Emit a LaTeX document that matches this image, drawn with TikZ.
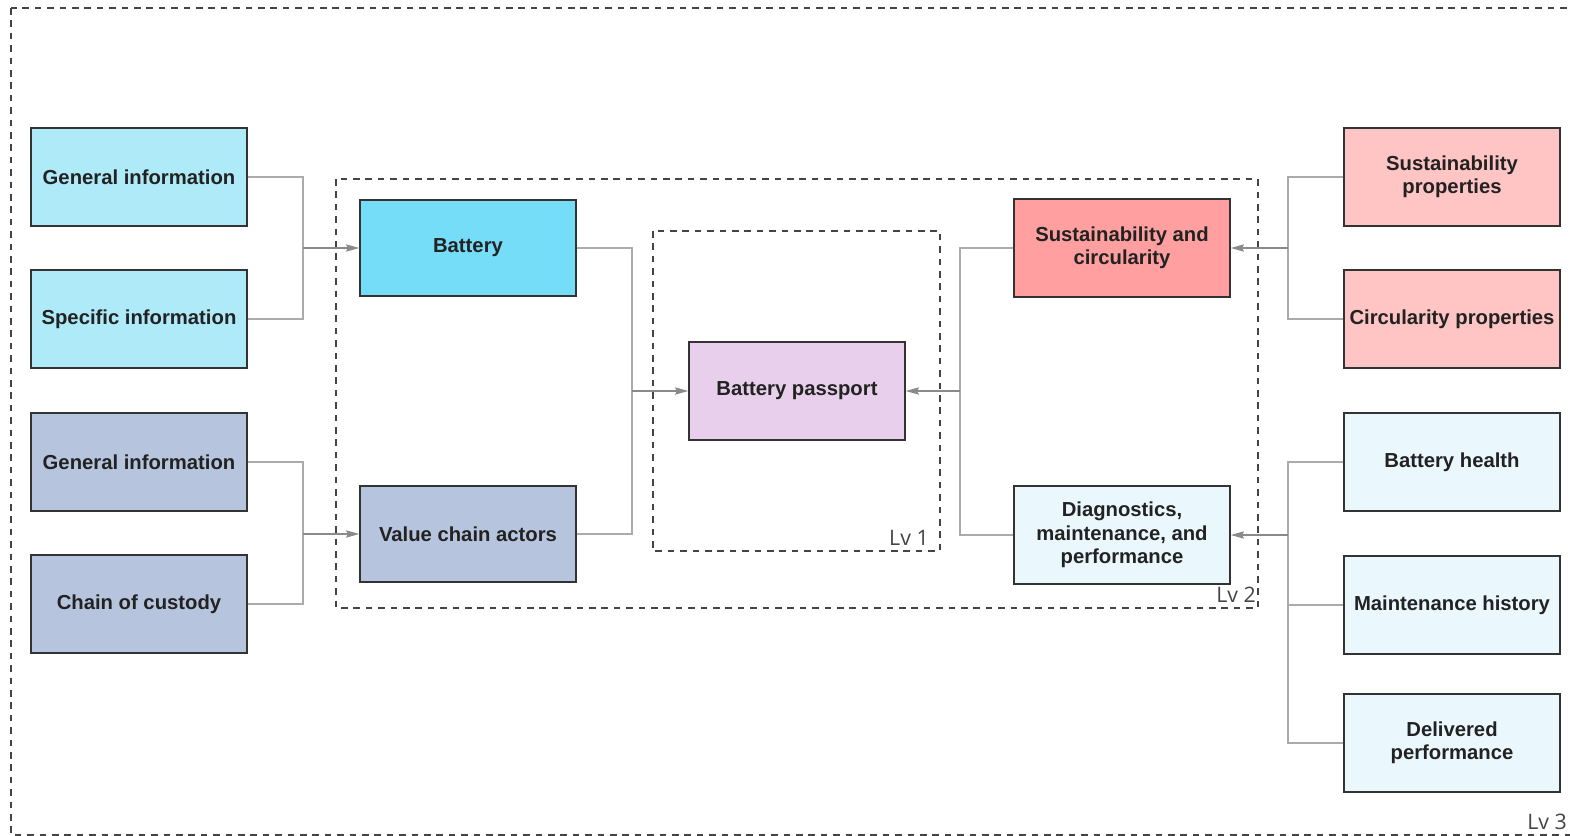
\documentclass[tikz,border=0pt]{standalone}
\usepackage{fontspec}
\setmainfont{Liberation Sans}
\newfontfamily\lvfont{Open Sans}
\usetikzlibrary{arrows.meta}
\definecolor{bpline}{HTML}{333333}
\definecolor{bpdash}{HTML}{444444}
\definecolor{bplink}{HTML}{ABABAB}
\definecolor{bparrow}{HTML}{8A8A8A}
\definecolor{bptext}{HTML}{222222}
\definecolor{bplightcyan}{HTML}{AEEAF8}
\definecolor{bpcyan}{HTML}{76DDF8}
\definecolor{bpslate}{HTML}{B6C5DD}
\definecolor{bplilac}{HTML}{E8CFEC}
\definecolor{bpred}{HTML}{FF9F9F}
\definecolor{bplightred}{HTML}{FFC4C4}
\definecolor{bpice}{HTML}{EAF8FD}

\begin{document}
\begin{tikzpicture}[x=0.75pt,y=-0.75pt,
 box/.style={draw=bpline,line width=1.1pt,minimum width=162pt,minimum height=73.5pt,
   inner sep=2pt,align=center,text=bptext,font=\fontsize{15.2}{17.5}\selectfont\bfseries},
 lvbox/.style={draw=bpdash,line width=1.1pt,dash pattern=on 5pt off 4.3pt},
 lvtag/.style={text=bpdash,font=\lvfont\fontsize{16}{18}\selectfont,inner sep=0pt},
 link/.style={draw=bplink,line width=0.8pt},
 arr/.style={draw=bparrow,line width=0.8pt,-{Stealth[length=10pt,width=5.5pt,inset=1.5pt]}}
]
\useasboundingbox (0,0) rectangle (1570,835);

% level frames
\draw[lvbox] (11,8) rectangle (1580,835);
\draw[lvbox] (336,179) rectangle (1258,608);
\draw[lvbox] (653,231) rectangle (940,551);
\node[lvtag,anchor=base east] (lv1) at (929,545) {Lv 1};
\node[lvtag,anchor=base east] (lv2) at (1256,602) {Lv 2};
\node[lvtag,anchor=base east] (lv3) at (1567,829) {Lv 3};

% left column
\node[box,fill=bplightcyan] (gen1) at (139,177) {General information};
\node[box,fill=bplightcyan] (spec) at (139,319) {Specific information};
\node[box,fill=bpslate] (gen2) at (139,462) {General information};
\node[box,fill=bpslate] (cust) at (139,604) {Chain of custody};

% level 2
\node[box,fill=bpcyan,minimum height=72pt] (batt) at (468,248) {Battery};
\node[box,fill=bpslate,minimum height=72pt] (vca) at (468,534) {Value chain actors};
\node[box,fill=bpred,minimum height=73.5pt] (sust) at (1122,248) {Sustainability and\\circularity};
\node[box,fill=bpice,minimum height=73.5pt] (diag) at (1122,535) {Diagnostics,\\maintenance, and\\performance};

% level 1
\node[box,fill=bplilac] (pass) at (797,391) {Battery passport};

% right column
\node[box,fill=bplightred] (sprop) at (1452,177) {Sustainability\\properties};
\node[box,fill=bplightred] (cprop) at (1452,319) {Circularity properties};
\node[box,fill=bpice] (health) at (1452,462) {Battery health};
\node[box,fill=bpice] (maint) at (1452,605) {Maintenance history};
\node[box,fill=bpice] (deliv) at (1452,743) {Delivered\\performance};

% junctions
\coordinate (jbatt) at (303,248);
\coordinate (jvca) at (303,534);
\coordinate (jpl) at (632,391);
\coordinate (jpr) at (960,391);
\coordinate (jsust) at (1288,248);
\coordinate (jdiag) at (1288,535);

\draw[link] (gen1.east) -| (jbatt); \draw[link] (spec.east) -| (jbatt);
\draw[arr] (jbatt) -- (batt.west);
\draw[link] (gen2.east) -| (jvca); \draw[link] (cust.east) -| (jvca);
\draw[arr] (jvca) -- (vca.west);
\draw[link] (batt.east) -| (jpl); \draw[link] (vca.east) -| (jpl);
\draw[arr] (jpl) -- (pass.west);
\draw[link] (sust.west) -| (jpr); \draw[link] (diag.west) -| (jpr);
\draw[arr] (jpr) -- (pass.east);
\draw[link] (sprop.west) -| (jsust); \draw[link] (cprop.west) -| (jsust);
\draw[arr] (jsust) -- (sust.east);
\draw[link] (health.west) -| (jdiag); \draw[link] (deliv.west) -| (jdiag);
\draw[link] (maint.west) -- (maint.west -| jdiag);
\draw[arr] (jdiag) -- (diag.east);
\end{tikzpicture}
\end{document}
